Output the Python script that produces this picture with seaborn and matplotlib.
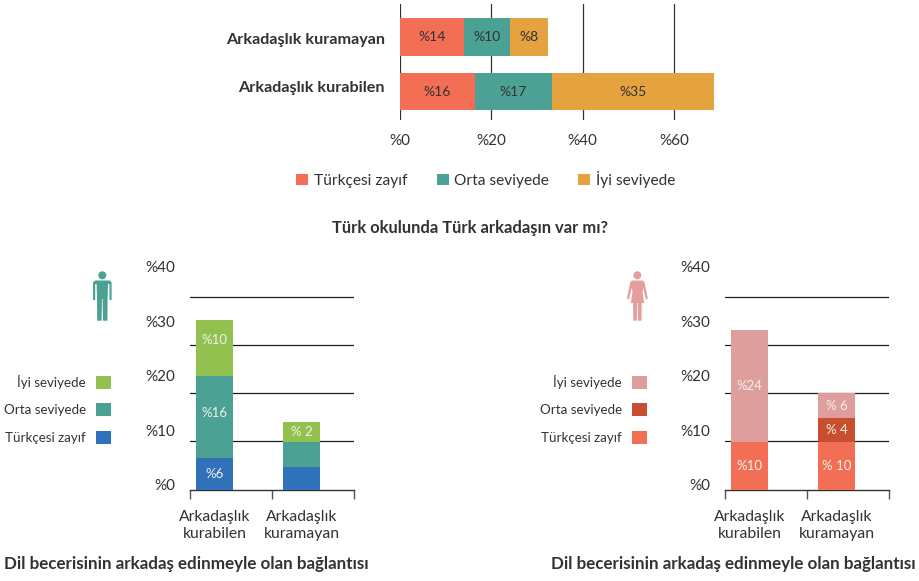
import numpy as np
import pandas as pd
import matplotlib
matplotlib.use("Agg")
import matplotlib.pyplot as plt
from matplotlib.patches import Patch, Circle, Polygon
from matplotlib.transforms import ScaledTranslation
import seaborn as sns

# ---------- data ----------
levels = ["Türkçesi zayıf", "Orta seviyede", "İyi seviyede"]

top_groups = ["Arkadaşlık kuramayan", "Arkadaşlık kurabilen"]
top_weak = [14.0, 16.4]
top_mid = [10.05, 16.85]
top_good = [8.3, 35.5]
top_labels = [["%14", "%16"], ["%10", "%17"], ["%8", "%35"]]
top_ticks = [0, 20, 40, 60]

low_groups = ["Arkadaşlık\nkurabilen", "Arkadaşlık\nkuramayan"]
low_ticks = [0, 10, 20, 30, 40]
guide_levels = [8.8, 17.6, 26.4, 35.2]

men_weak = [5.7, 4.1]
men_mid = [15.0, 4.6]
men_good = [10.4, 3.7]
men_labels = [["%6", ""], ["%16", ""], ["%10", "% 2"]]
men_label_shift = [[0, 0], [4, 0], [8, 0]]

women_weak = [8.7, 8.7]
women_mid = [0.0, 4.4]
women_good = [20.5, 4.5]
women_labels = [["%10", "% 10"], ["", "% 4"], ["%24", "% 6"]]
women_label_shift = [[0, 0], [0, 0], [0, 0]]

top_colors = ["#F26F55", "#4AA194", "#E5A340"]
men_colors = ["#2F72BA", "#4AA194", "#92C14F"]
women_colors = ["#F26F55", "#C94E2F", "#DE9E9C"]

# ---------- setup ----------
W, H = 919, 581
DARK = "#333132"
sns.set_theme(style="white")
plt.rcParams["font.family"] = ["Lato", "DejaVu Sans"]
plt.rcParams["text.color"] = DARK
plt.rcParams["axes.labelcolor"] = DARK
plt.rcParams["xtick.color"] = DARK
plt.rcParams["ytick.color"] = DARK
fig = plt.figure(figsize=(W / 100, H / 100), dpi=100, facecolor="white")
PX = 0.72  # points per pixel


def axes_px(left, top, right, bottom):
    return fig.add_axes([left / W, 1 - bottom / H, (right - left) / W, (bottom - top) / H])


# ---------- top chart ----------
ax = axes_px(399.8, 4, 722, 120)
left = np.zeros(2)
for name, values, color, labels in zip(levels, [top_weak, top_mid, top_good], top_colors, top_labels):
    df = pd.DataFrame({"group": top_groups, "value": values})
    n = len(ax.containers)
    sns.barplot(data=df, y="group", x="value", color=color, saturation=1, width=37.5 / 54.7,
                left=left, ax=ax, zorder=3, errorbar=None, linewidth=0)
    ax.bar_label(ax.containers[n], labels=labels, label_type="center", fontsize=10, color=DARK)
    left = left + np.array(values)
ax.set_xlim(0, 322.2 / 4.575)
ax.set_ylim(1.517, -0.603)
ax.set_xticks(top_ticks, [f"%{t}" for t in top_ticks])
ax.set_xlabel("")
ax.set_ylabel("")
ax.grid(axis="x", color="#333333", lw=0.9, zorder=0)
ax.grid(axis="y", visible=False)
sns.despine(ax=ax, left=True, bottom=True)
ax.tick_params(axis="x", length=0, pad=10.4, labelsize=11)
ax.tick_params(axis="y", length=0, pad=10.6, labelsize=11.6)
for lab, dy in zip(ax.get_yticklabels(), [2.7, -3.4]):
    lab.set_fontweight("bold")
    lab.set_transform(lab.get_transform() + ScaledTranslation(0, -dy / 100, fig.dpi_scale_trans))
    lab.set_verticalalignment("center")

fig.legend(handles=[Patch(color=c, label=l, lw=0) for c, l in zip(top_colors, levels)],
           loc="center left", bbox_to_anchor=(293 / W, 1 - 179.5 / H), ncol=3, frameon=False,
           fontsize=11.2, handlelength=0.785, handleheight=0.785, handletextpad=0.37, columnspacing=1.86,
           borderpad=0, borderaxespad=0.2)


# ---------- lower charts ----------
def lower_chart(x0, series, colors, labels, shifts, legend_right):
    ax = axes_px(x0, 262, x0 + 164, 489.5)
    bottom = np.zeros(2)
    for values, color, labs, sh in zip(series, colors, labels, shifts):
        df = pd.DataFrame({"group": low_groups, "value": values})
        n = len(ax.containers)
        sns.barplot(data=df, x="group", y="value", color=color, saturation=1, width=37 / 87,
                    bottom=bottom, ax=ax, zorder=3, errorbar=None, linewidth=0)
        texts = ax.bar_label(ax.containers[n], labels=labs, label_type="center", fontsize=9.5, color="#F4F1EC")
        for t, dy in zip(texts, sh):
            t.xyann = (t.xyann[0], t.xyann[1] + dy * PX)
        bottom = bottom + np.array(values)
    xlim = (-24.5 / 87, 139.5 / 87)
    ax.set_xlim(*xlim)
    ax.set_ylim(0, 227.5 / 5.46)
    ax.set_xlabel("")
    ax.set_ylabel("")
    ax.set_yticks(low_ticks, [f"%{t}" for t in low_ticks])
    for g in guide_levels:
        ax.axhline(g, color="#1F1F1F", lw=0.9, zorder=1)
    ax.set_xticks(np.linspace(xlim[0], xlim[1], 3), minor=True)
    ax.tick_params(axis="x", which="minor", bottom=True, length=6.5, width=1, color="#555555", direction="out")
    ax.tick_params(axis="x", which="major", bottom=False, length=0, pad=14.5, labelsize=11.3)
    ax.tick_params(axis="y", length=0, pad=10.8, labelsize=11)
    lift = ScaledTranslation(0, 3 / 100, fig.dpi_scale_trans)
    for lab in ax.get_yticklabels():
        lab.set_verticalalignment("center")
        lab.set_transform(lab.get_transform() + lift)
    for lab in ax.get_xticklabels():
        lab.set_linespacing(1.35)
    sns.despine(ax=ax, left=True)
    ax.spines["bottom"].set_color("#333333")
    ax.spines["bottom"].set_linewidth(1)
    ax.grid(False)
    handles = [Patch(color=c, label=l, lw=0) for c, l in zip(colors[::-1], levels[::-1])]
    fig.legend(handles=handles, loc="center right",
               bbox_to_anchor=(legend_right / W, 1 - 409.5 / H), frameon=False, markerfirst=False,
               fontsize=9.6, handlelength=1.12, handleheight=1.12, handletextpad=0.75, labelspacing=1.12,
               borderpad=0, borderaxespad=0, alignment="right")


lower_chart(190, [men_weak, men_mid, men_good], men_colors, men_labels, men_label_shift, 111)
lower_chart(725, [women_weak, women_mid, women_good], women_colors, women_labels, women_label_shift, 647)

# ---------- overlay: captions and icons, in pixel coordinates ----------
ov = fig.add_axes([0, 0, 1, 1], zorder=10)
ov.set_xlim(0, W)
ov.set_ylim(H, 0)
ov.axis("off")
ov.patch.set_alpha(0)
ov.text(470, 228, "Türk okulunda Türk arkadaşın var mı?", ha="center", va="center", fontsize=11.9, fontweight="bold")
ov.text(186, 564.5, "Dil becerisinin arkadaş edinmeyle olan bağlantısı", ha="center", va="center", fontsize=12.25,
        fontweight="bold")
ov.text(733.5, 564.5, "Dil becerisinin arkadaş edinmeyle olan bağlantısı", ha="center", va="center", fontsize=12.25,
        fontweight="bold")

teal, pink = "#4AA194", "#E59E9E"
# man
ov.add_patch(Circle((102.3, 275.3), 4, color=teal, lw=0))
ov.add_patch(Polygon([(95, 280.5), (109.8, 280.5), (111.6, 282.5), (111.6, 300), (109.5, 300), (109.5, 284),
                      (108, 284), (107.6, 298), (107.4, 320.7), (103, 320.7), (102.6, 299), (102, 299), (101.6, 320.7),
                      (97.2, 320.7), (97, 298), (96.6, 284), (95.2, 284), (95.2, 300), (93, 300), (93, 282.5)],
                     closed=True, color=teal, lw=0))
# woman
ov.add_patch(Circle((637.3, 275.3), 4, color=pink, lw=0))
ov.add_patch(Polygon([(632, 280.5), (642.8, 280.5), (644.5, 282), (647.8, 298.5), (645.8, 299.5), (643.3, 288),
                      (642.5, 292), (644.2, 303), (641.7, 303), (641.5, 320.7), (637.9, 320.7), (637.7, 303),
                      (637.0, 303), (636.8, 320.7), (633.3, 320.7), (633.1, 303), (630.8, 303), (632.5, 292),
                      (631.6, 288), (629, 299.5), (627, 298.5), (630.3, 282)],
                     closed=True, color=pink, lw=0))

fig.savefig("out.png", dpi=100)
